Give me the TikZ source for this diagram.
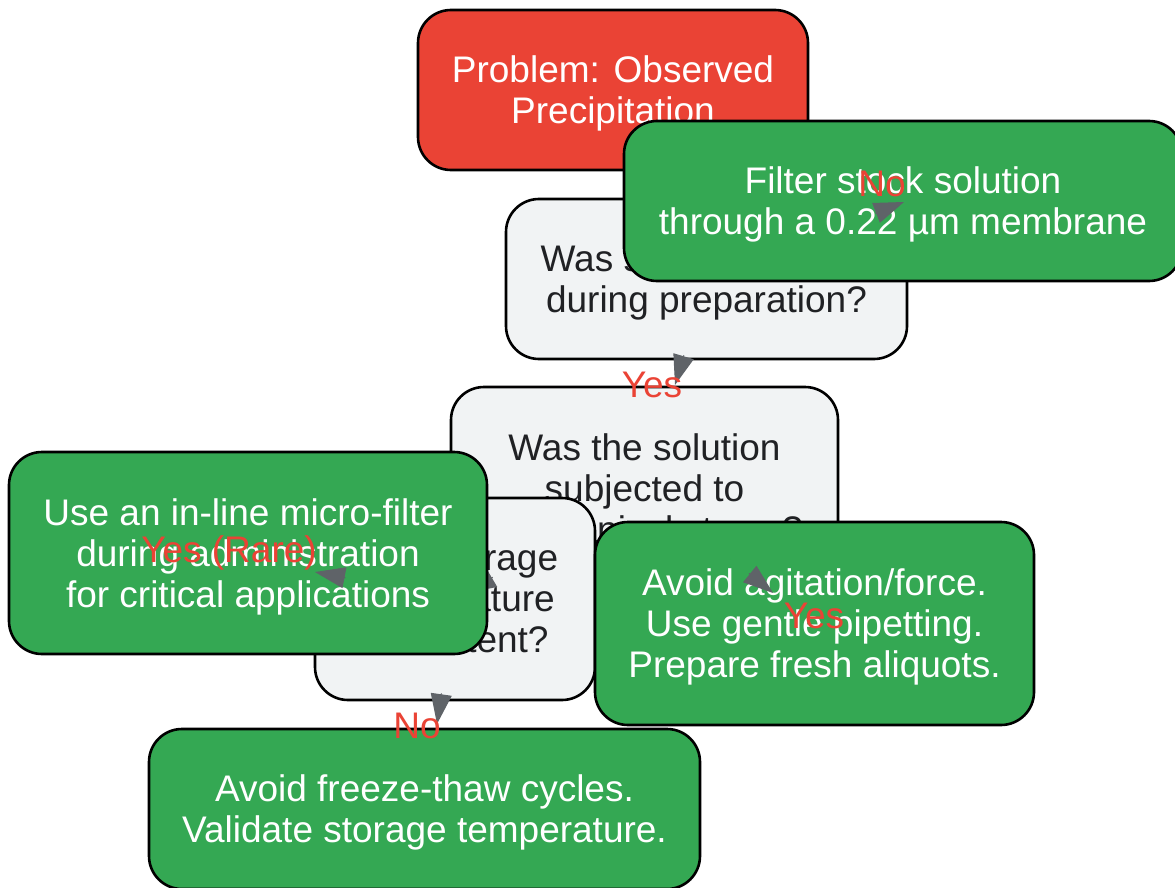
\documentclass[tikz,border=0pt]{standalone}
\usepackage{fontspec}
\setmainfont{Liberation Sans}
\usetikzlibrary{arrows.meta,calc}
\definecolor{gred}{HTML}{EA4335}
\definecolor{ggreen}{HTML}{34A853}
\definecolor{ggrey}{HTML}{F1F3F4}
\definecolor{gtext}{HTML}{202124}
\definecolor{arrowgrey}{HTML}{5F6368}
\newcommand{\diagfont}{\fontsize{37}{41}\selectfont}
\tikzset{
  box/.style={draw=black, line width=2.6pt, rounded corners=33pt, align=center, inner sep=0pt, text depth=-5pt, font=\diagfont},
  redbox/.style={box, fill=gred, text=white},
  greybox/.style={box, fill=ggrey, text=gtext},
  greenbox/.style={box, fill=ggreen, text=white},
  conn/.style={draw=arrowgrey, fill=arrowgrey, line width=1pt, -{Triangle[length=30pt,width=21pt]}},
  lbl/.style={text=gred, font=\diagfont, inner sep=0pt, anchor=base},
}
\begin{document}
\begin{tikzpicture}[x=1pt,y=-1pt]
\fill[white] (0,0) rectangle (1175,888);
\useasboundingbox (0,0) rectangle (1175,888);

\node[redbox, minimum width=390pt, minimum height=160pt] (prob) at (613,90) {Problem: Observed\\Precipitation};
\node[greybox, minimum width=401pt, minimum height=160pt] (q1) at (706.5,279) {Was solution filtered\\during preparation?};
\coordinate (t0) at (655,199);
\draw[conn] ($(t0)!31pt!(prob)$) -- (t0);
\node[greenbox, minimum width=558pt, minimum height=160pt] (filt) at (903,201) {Filter stock solution\\through a 0.22 µm membrane};
\node[greybox, minimum width=387pt, minimum height=202pt] (q2) at (644.5,488) {Was the solution\\subjected to\\mechanical stress?};
\node[greybox, minimum width=280pt, minimum height=202pt] (q3) at (455,599) {Was storage\\temperature\\consistent?};
\coordinate (t4) at (466,593);
\draw[conn] ($(t4)!31pt!(q2)$) -- (t4);
\node[greenbox, minimum width=478pt, minimum height=202pt] (micro) at (248,553) {Use an in-line micro-filter\\during administration\\for critical applications};
\node[greenbox, minimum width=439pt, minimum height=203pt] (agit) at (814.5,623.5) {Avoid agitation/force.\\Use gentle pipetting.\\Prepare fresh aliquots.};
\node[greenbox, minimum width=551pt, minimum height=160pt] (frz) at (424.5,809) {Avoid freeze-thaw cycles.\\Validate storage temperature.};

\coordinate (t1) at (904,202);
\draw[conn] ($(t1)!31pt!(q1)$) -- (t1);
\coordinate (t2) at (675,385);
\draw[conn] ($(t2)!31pt!(q1)$) -- (t2);
\coordinate (t3) at (773,593);
\draw[conn] ($(t3)!31pt!(q2)$) -- (t3);
\coordinate (t5) at (437,724);
\draw[conn] ($(t5)!31pt!(q3)$) -- (t5);
\coordinate (t6) at (315,572);
\draw[conn] ($(t6)!31pt!(q3)$) -- (t6);

\node[lbl] (l1) at (882,196) {No};
\node[lbl] (l2) at (652,397) {Yes};
\node[lbl] (l3) at (229,562) {Yes (Rare)};
\node[lbl] (l4) at (814,628) {Yes};
\node[lbl] (l5) at (417,738) {No};
\end{tikzpicture}
\end{document}
